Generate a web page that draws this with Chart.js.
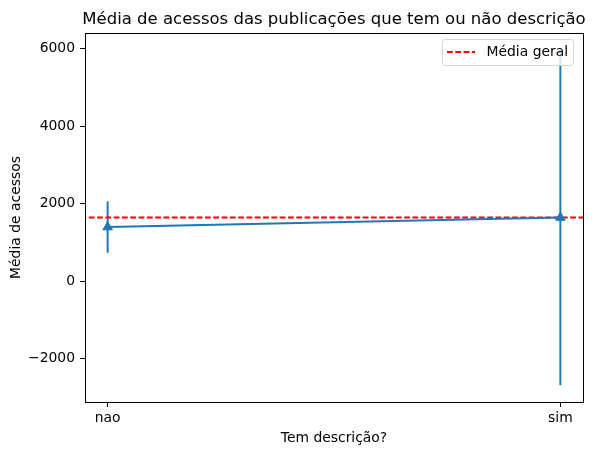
<!DOCTYPE html>
<html>
<head>
<meta charset="utf-8">
<script src="https://cdn.jsdelivr.net/npm/chart.js@4.4.1/dist/chart.umd.min.js"></script>
<style>
html,body{margin:0;padding:0;background:#fff;}
#wrap{width:597px;height:455px;position:relative;}
</style>
</head>
<body>
<div id="wrap"><canvas id="c" width="597" height="455"></canvas></div>
<script>
const categories = ['nao', 'sim'];
const means = [1398, 1645];
const errors = [663, 4325];
const overallMean = 1648;
const yTicks = [-2000, 0, 2000, 4000, 6000];
const titleText = 'Média de acessos das publicações que tem ou não descrição';
const xTitle = 'Tem descrição?';
const yTitle = 'Média de acessos';
const meanLabel = 'Média geral';

const BLUE = '#1f77b4';
const FONT = 'DejaVu Sans';

const lows = means.map((m, i) => m - errors[i]);
const highs = means.map((m, i) => m + errors[i]);
const yLo = Math.min(...lows), yHi = Math.max(...highs);
const yPad = 0.05 * (yHi - yLo);
const xPad = 0.05 * (categories.length - 1);

const datasets = [];
datasets.push({
  label: 'data',
  data: means.map((m, i) => ({x: i, y: m})),
  borderColor: BLUE, backgroundColor: BLUE, borderWidth: 2,
  pointStyle: 'triangle', pointRadius: 5.5, pointBorderWidth: 1, pointBorderColor: BLUE,
  order: 0
});
datasets.push({
  label: meanLabel,
  data: [{x: -xPad - 1, y: overallMean}, {x: categories.length - 1 + xPad + 1, y: overallMean}],
  borderColor: '#ff0000', borderWidth: 2, borderDash: [5.8, 2.5],
  pointRadius: 0, order: 1
});
categories.forEach((c, i) => {
  datasets.push({
    label: 'err_' + c,
    data: [{x: i, y: lows[i]}, {x: i, y: highs[i]}],
    borderColor: BLUE, borderWidth: 2, pointRadius: 0, order: 2
  });
});

const framePlugin = {
  id: 'frame',
  afterDatasetsDraw(chart) {
    const ctx = chart.ctx, a = chart.chartArea;
    ctx.save();
    // legend
    const lx = 442.5, ly = 39.5, lw = 131, lh = 26, r = 3;
    ctx.beginPath();
    ctx.moveTo(lx + r, ly);
    ctx.arcTo(lx + lw, ly, lx + lw, ly + lh, r);
    ctx.arcTo(lx + lw, ly + lh, lx, ly + lh, r);
    ctx.arcTo(lx, ly + lh, lx, ly, r);
    ctx.arcTo(lx, ly, lx + lw, ly, r);
    ctx.closePath();
    ctx.fillStyle = 'rgba(255,255,255,0.8)';
    ctx.fill();
    ctx.strokeStyle = '#d6d6d6';
    ctx.lineWidth = 1;
    ctx.stroke();
    ctx.beginPath();
    ctx.setLineDash([5.8, 2.5]);
    ctx.strokeStyle = '#ff0000';
    ctx.lineWidth = 2;
    ctx.moveTo(447, 52);
    ctx.lineTo(475, 52);
    ctx.stroke();
    ctx.setLineDash([]);
    ctx.fillStyle = '#000';
    ctx.font = '13.9px "' + FONT + '"';
    ctx.textBaseline = 'middle';
    ctx.textAlign = 'left';
    ctx.fillText(meanLabel, 486.5, 52);
    // frame
    ctx.strokeStyle = '#000';
    ctx.lineWidth = 1;
    ctx.strokeRect(Math.round(a.left) + 0.5, Math.round(a.top) + 0.5, Math.round(a.right - a.left), Math.round(a.bottom - a.top));
    // title
    ctx.font = '16.5px "' + FONT + '"';
    ctx.textAlign = 'center';
    ctx.textBaseline = 'alphabetic';
    ctx.fillText(titleText, (a.left + a.right) / 2, 24);
    ctx.restore();
  }
};

new Chart(document.getElementById('c'), {
  type: 'line',
  data: {datasets},
  options: {
    responsive: false,
    animation: false,
    events: [],
    layout: {padding: {top: 33, right: 14, left: 0, bottom: 0}},
    plugins: {legend: {display: false}, title: {display: false}, tooltip: {enabled: false}},
    scales: {
      x: {
        type: 'linear',
        min: -xPad, max: categories.length - 1 + xPad,
        afterBuildTicks(s) { s.ticks = categories.map((c, i) => ({value: i})); },
        afterFit(s) { s.height = 53; },
        ticks: {
          callback: (v) => categories[v] !== undefined ? categories[v] : '',
          color: '#000', font: {family: FONT, size: 13.9}, padding: 3, maxRotation: 0, autoSkip: false
        },
        grid: {display: true, drawOnChartArea: false, tickLength: 5, color: '#000', tickWidth: 1},
        border: {display: true, color: '#000', width: 1},
        title: {display: true, text: xTitle, color: '#000', font: {family: FONT, size: 13.9}, padding: {top: 0, bottom: 8}}
      },
      y: {
        type: 'linear',
        min: yLo - yPad, max: yHi + yPad,
        afterBuildTicks(s) { s.ticks = yTicks.map(v => ({value: v})); },
        afterFit(s) { s.width = 85; },
        ticks: {
          callback: (v) => String(v).replace('-', '\u2212'),
          color: '#000', font: {family: FONT, size: 13.9}, padding: 5
        },
        grid: {display: true, drawOnChartArea: false, tickLength: 5, color: '#000', tickWidth: 1},
        border: {display: true, color: '#000', width: 1},
        title: {display: true, text: yTitle, color: '#000', font: {family: FONT, size: 13.9}, padding: {top: 8, bottom: 0}}
      }
    }
  },
  plugins: [framePlugin]
});
</script>
</body>
</html>
